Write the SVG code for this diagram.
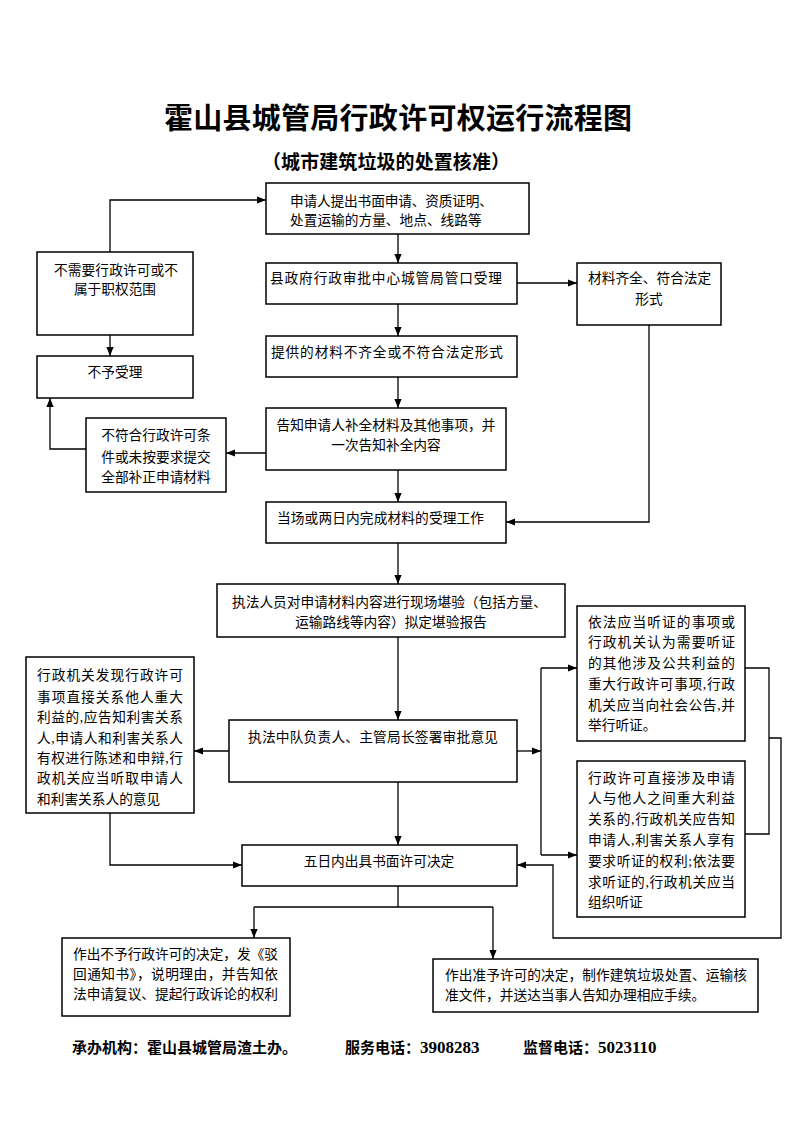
<svg xmlns="http://www.w3.org/2000/svg" width="793" height="1122" viewBox="0 0 793 1122">
<defs>
<style>
.bx{fill:#fff;stroke:#000;stroke-width:1.5}
.t{font-family:"Liberation Serif","Noto Sans CJK SC",serif;font-size:13.7px;fill:#000}
.c{text-anchor:middle}
.ln{fill:none;stroke:#000;stroke-width:1.3}
.ttl{font-family:"Noto Sans CJK SC",sans-serif;font-weight:bold;fill:#000;text-anchor:middle}
.ft{font-family:"Liberation Serif","Noto Sans CJK SC",serif;font-weight:bold;font-size:15px;fill:#000}
.num{font-size:17px}
</style>
<marker id="ah" viewBox="0 0 10 10" refX="10" refY="5" markerWidth="9" markerHeight="9" markerUnits="userSpaceOnUse" orient="auto">
<path d="M0,1 L10,5 L0,9 z" fill="#000"/>
</marker>
</defs>
<rect width="793" height="1122" fill="#fff"/>

<g id="title">
<text class="ttl" x="398" y="129" font-size="29" textLength="468">霍山县城管局行政许可权运行流程图</text>
<text class="ttl" x="386" y="169" font-size="19" textLength="248">（城市建筑垃圾的处置核准）</text>
</g>

<g id="connectors">
<path class="ln" d="M110,252 V200 H266" marker-end="url(#ah)"/>
<path class="ln" d="M398,234 V263" marker-end="url(#ah)"/>
<path class="ln" d="M110,335 V356" marker-end="url(#ah)"/>
<path class="ln" d="M517,283 H577" marker-end="url(#ah)"/>
<path class="ln" d="M398,304 V336" marker-end="url(#ah)"/>
<path class="ln" d="M398,377 V408" marker-end="url(#ah)"/>
<path class="ln" d="M266,453 H226" marker-end="url(#ah)"/>
<path class="ln" d="M86,449 H50 V398" marker-end="url(#ah)"/>
<path class="ln" d="M398,470 V502" marker-end="url(#ah)"/>
<path class="ln" d="M649,325 V522 H506" marker-end="url(#ah)"/>
<path class="ln" d="M398,543 V584" marker-end="url(#ah)"/>
<path class="ln" d="M398,637 V720" marker-end="url(#ah)"/>
<path class="ln" d="M229,751 H194" marker-end="url(#ah)"/>
<path class="ln" d="M398,782 V845" marker-end="url(#ah)"/>
<path class="ln" d="M110,813 V865 H242" marker-end="url(#ah)"/>
<path class="ln" d="M517,751 H541" marker-end="url(#ah)"/>
<path class="ln" d="M541,668 V855"/>
<path class="ln" d="M541,668 H577" marker-end="url(#ah)"/>
<path class="ln" d="M541,855 H577" marker-end="url(#ah)"/>
<path class="ln" d="M745,668 H769 V834 H745"/>
<path class="ln" d="M769,738 H781 V938 H553 V865 H517" marker-end="url(#ah)"/>
<path class="ln" d="M398,886 V907 M254,907 H493"/>
<path class="ln" d="M254,907 V938" marker-end="url(#ah)"/>
<path class="ln" d="M493,907 V959" marker-end="url(#ah)"/>
</g>

<g id="n-apply">
<rect class="bx" x="266" y="183" width="263" height="51"/>
<text class="t" x="290" y="206" textLength="203">申请人提出书面申请、资质证明、</text>
<text class="t" x="290" y="225">处置运输的方量、地点、线路等</text>
</g>

<g id="n-accept">
<rect class="bx" x="266" y="263" width="251" height="41"/>
<text class="t" x="270" y="283" textLength="232">县政府行政审批中心城管局管口受理</text>
</g>

<g id="n-incomplete">
<rect class="bx" x="266" y="336" width="251" height="41"/>
<text class="t" x="271" y="357" textLength="232">提供的材料不齐全或不符合法定形式</text>
</g>

<g id="n-notify">
<rect class="bx" x="266" y="408" width="240" height="62"/>
<text class="t c" x="386" y="430">告知申请人补全材料及其他事项，并</text>
<text class="t c" x="386" y="450">一次告知补全内容</text>
</g>

<g id="n-complete-accept">
<rect class="bx" x="266" y="502" width="240" height="41"/>
<text class="t" x="277" y="523" textLength="207">当场或两日内完成材料的受理工作</text>
</g>

<g id="n-complete">
<rect class="bx" x="577" y="263" width="144" height="62"/>
<text class="t" x="588" y="283">材料齐全、符合法定</text>
<text class="t c" x="649" y="304">形式</text>
</g>

<g id="n-noneed">
<rect class="bx" x="37" y="252" width="156" height="83"/>
<text class="t" x="54" y="275" textLength="124">不需要行政许可或不</text>
<text class="t c" x="115" y="294">属于职权范围</text>
</g>

<g id="n-reject">
<rect class="bx" x="37" y="356" width="156" height="42"/>
<text class="t c" x="115" y="377">不予受理</text>
</g>

<g id="n-notcomply">
<rect class="bx" x="86" y="418" width="140" height="74"/>
<text class="t c" x="156" y="440">不符合行政许可条</text>
<text class="t c" x="156" y="462">件或未按要求提交</text>
<text class="t c" x="156" y="482">全部补正申请材料</text>
</g>

<g id="n-inspect">
<rect class="bx" x="217" y="584" width="348" height="53"/>
<text class="t" x="232" y="607" textLength="315">执法人员对申请材料内容进行现场堪验（包括方量、</text>
<text class="t c" x="391" y="627">运输路线等内容）拟定堪验报告</text>
</g>

<g id="n-interest">
<rect class="bx" x="26" y="657" width="168" height="156"/>
<text class="t" x="37" y="680" textLength="146" lengthAdjust="spacing">行政机关发现行政许可</text>
<text class="t" x="37" y="702" textLength="146" lengthAdjust="spacing">事项直接关系他人重大</text>
<text class="t" x="37" y="722" textLength="146" lengthAdjust="spacing">利益的,应告知利害关系</text>
<text class="t" x="37" y="743" textLength="146" lengthAdjust="spacing">人,申请人和利害关系人</text>
<text class="t" x="37" y="763" textLength="146" lengthAdjust="spacing">有权进行陈述和申辩,行</text>
<text class="t" x="37" y="783" textLength="146" lengthAdjust="spacing">政机关应当听取申请人</text>
<text class="t" x="37" y="804">和利害关系人的意见</text>
</g>

<g id="n-sign">
<rect class="bx" x="229" y="720" width="288" height="62"/>
<text class="t" x="248" y="742" textLength="250">执法中队负责人、主管局长签署审批意见</text>
</g>

<g id="n-decide">
<rect class="bx" x="242" y="845" width="275" height="41"/>
<text class="t c" x="379" y="866">五日内出具书面许可决定</text>
</g>

<g id="n-hearing1">
<rect class="bx" x="577" y="606" width="168" height="135"/>
<text class="t" x="588" y="627" textLength="147" lengthAdjust="spacing">依法应当听证的事项或</text>
<text class="t" x="588" y="647" textLength="147" lengthAdjust="spacing">行政机关认为需要听证</text>
<text class="t" x="588" y="668" textLength="147" lengthAdjust="spacing">的其他涉及公共利益的</text>
<text class="t" x="588" y="689" textLength="147" lengthAdjust="spacing">重大行政许可事项,行政</text>
<text class="t" x="588" y="710" textLength="147" lengthAdjust="spacing">机关应当向社会公告,并</text>
<text class="t" x="588" y="730">举行听证。</text>
</g>

<g id="n-hearing2">
<rect class="bx" x="577" y="761" width="168" height="156"/>
<text class="t" x="588" y="783" textLength="147" lengthAdjust="spacing">行政许可直接涉及申请</text>
<text class="t" x="588" y="803" textLength="147" lengthAdjust="spacing">人与他人之间重大利益</text>
<text class="t" x="588" y="824" textLength="147" lengthAdjust="spacing">关系的,行政机关应告知</text>
<text class="t" x="588" y="845" textLength="147" lengthAdjust="spacing">申请人,利害关系人享有</text>
<text class="t" x="588" y="866" textLength="147" lengthAdjust="spacing">要求听证的权利;依法要</text>
<text class="t" x="588" y="887" textLength="147" lengthAdjust="spacing">求听证的,行政机关应当</text>
<text class="t" x="588" y="907">组织听证</text>
</g>

<g id="n-deny">
<rect class="bx" x="62" y="938" width="228" height="78"/>
<text class="t" x="73" y="959" textLength="205">作出不予行政许可的决定，发《驳</text>
<text class="t" x="73" y="979" textLength="205">回通知书》，说明理由，并告知依</text>
<text class="t" x="73" y="999" textLength="205">法申请复议、提起行政诉论的权利</text>
</g>

<g id="n-grant">
<rect class="bx" x="433" y="959" width="325" height="53"/>
<text class="t" x="445" y="980" textLength="302">作出准予许可的决定，制作建筑垃圾处置、运输核</text>
<text class="t" x="445" y="1000">准文件，并送达当事人告知办理相应手续。</text>
</g>

<g id="footer">
<text class="ft" x="72" y="1053">承办机构：霍山县城管局渣土办。</text>
<text class="ft" x="345" y="1053">服务电话：<tspan class="num">3908283</tspan></text>
<text class="ft" x="523" y="1053">监督电话：<tspan class="num">5023110</tspan></text>
</g>
</svg>
